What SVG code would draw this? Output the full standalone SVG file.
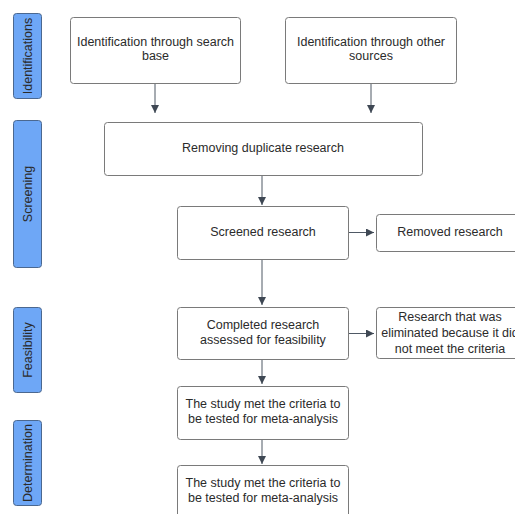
<svg xmlns="http://www.w3.org/2000/svg" width="515" height="514" viewBox="0 0 515 514">
<style>
.lane{fill:#6ea7f6;stroke:#4b6890;stroke-width:1}
.box{fill:#fff;stroke:#7a7a7a;stroke-width:1}
.t{font-family:"Liberation Sans",Arial,sans-serif;font-size:12.5px;fill:#2b2b2b;text-anchor:middle}
.c{stroke:#4f5965;stroke-width:1;fill:none;marker-end:url(#ah)}
</style>
<defs>
<marker id="ah" viewBox="0 0 10 10" refX="10" refY="5" markerWidth="8" markerHeight="8" markerUnits="userSpaceOnUse" orient="auto">
<path d="M0,0 L10,5 L0,10 z" fill="#3f4854"/>
</marker>
</defs>
<rect width="515" height="514" fill="#fff"/>
<g id="lane-identifications"><rect class="lane" x="13.5" y="13.5" width="28" height="85" rx="3"/><text class="t" transform="translate(31.5,56) rotate(-90)">Identifications</text></g>
<g id="lane-screening"><rect class="lane" x="13.5" y="120.5" width="28" height="147" rx="3"/><text class="t" transform="translate(31.5,194) rotate(-90)">Screening</text></g>
<g id="lane-feasibility"><rect class="lane" x="13.5" y="307.5" width="28" height="85" rx="3"/><text class="t" transform="translate(31.5,350) rotate(-90)">Feasibility</text></g>
<g id="lane-determination"><rect class="lane" x="13.5" y="420.5" width="28" height="85" rx="3"/><text class="t" transform="translate(31.5,463) rotate(-90)">Determination</text></g>

<g id="connectors">
<line class="c" x1="155" y1="83" x2="155" y2="113"/>
<line class="c" x1="371" y1="83" x2="371" y2="113"/>
<line class="c" x1="262" y1="175" x2="262" y2="205"/>
<line class="c" x1="348" y1="232.5" x2="374" y2="232.5"/>
<line class="c" x1="262" y1="259" x2="262" y2="305"/>
<line class="c" x1="348" y1="333.5" x2="374" y2="333.5"/>
<line class="c" x1="262" y1="359" x2="262" y2="384"/>
<line class="c" x1="262" y1="439" x2="262" y2="464"/>
</g>

<g id="n1"><rect class="box" x="70.5" y="17.5" width="170" height="66" rx="3"/><text class="t" x="155.5" y="46">Identification through search</text><text class="t" x="155.5" y="60">base</text></g>
<g id="n2"><rect class="box" x="285.5" y="17.5" width="171" height="66" rx="3"/><text class="t" x="371" y="46">Identification through other</text><text class="t" x="371" y="60">sources</text></g>
<g id="n3"><rect class="box" x="104.5" y="122.5" width="318" height="53" rx="3"/><text class="t" x="263" y="152">Removing duplicate research</text></g>
<g id="n4"><rect class="box" x="177.5" y="206.5" width="171" height="53" rx="3"/><text class="t" x="263" y="236">Screened research</text></g>
<g id="n5"><rect class="box" x="376.5" y="214.5" width="145" height="37" rx="3"/><text class="t" x="450" y="236">Removed research</text></g>
<g id="n6"><rect class="box" x="177.5" y="307.5" width="171" height="52" rx="3"/><text class="t" x="263" y="329">Completed research</text><text class="t" x="263" y="344">assessed for feasibility</text></g>
<g id="n7"><rect class="box" x="376.5" y="307.5" width="148" height="51" rx="3"/><text class="t" x="450" y="321">Research that was</text><text class="t" x="450" y="337">eliminated because it did</text><text class="t" x="450" y="353">not meet the criteria</text></g>
<g id="n8"><rect class="box" x="177.5" y="386.5" width="171" height="53" rx="3"/><text class="t" x="263" y="408">The study met the criteria to</text><text class="t" x="263" y="423">be tested for meta-analysis</text></g>
<g id="n9"><rect class="box" x="177.5" y="465.5" width="171" height="53" rx="3"/><text class="t" x="263" y="487">The study met the criteria to</text><text class="t" x="263" y="502">be tested for meta-analysis</text></g>
</svg>
